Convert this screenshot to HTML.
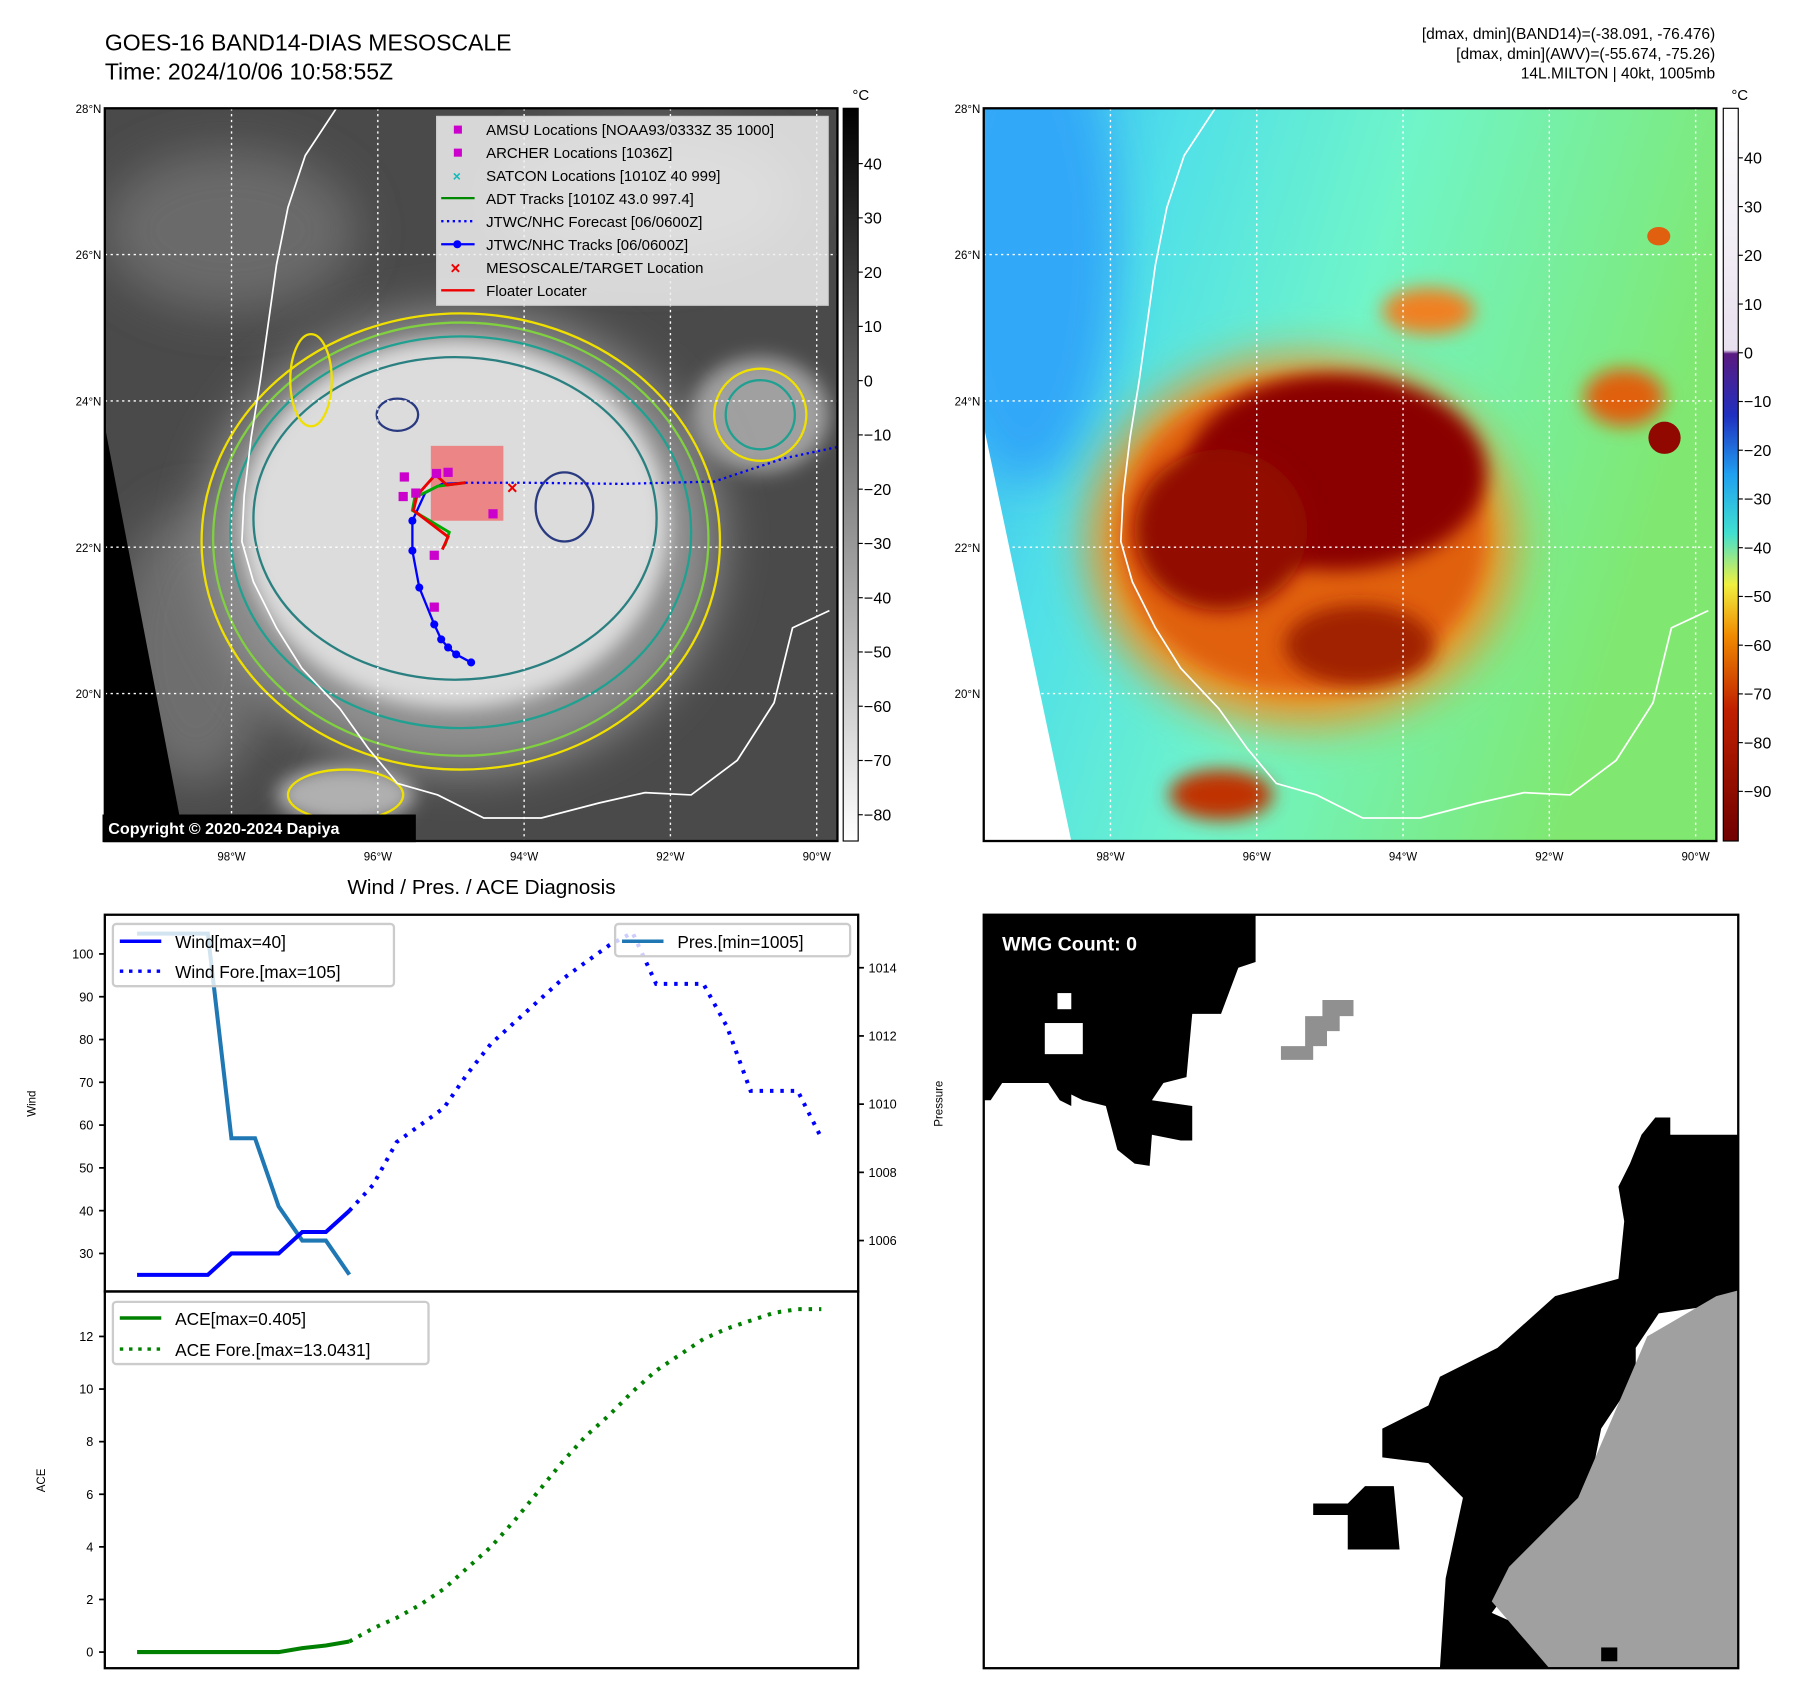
<!DOCTYPE html>
<html><head><meta charset="utf-8"><style>
html,body{margin:0;padding:0;background:#fff;}
svg{display:block;font-family:"Liberation Sans","DejaVu Sans",sans-serif;}
</style></head><body>
<svg id="root" width="1797" height="1697" viewBox="0 0 1560 1473" preserveAspectRatio="none" xmlns="http://www.w3.org/2000/svg">
<defs>
<filter id="blur8" x="-50%" y="-50%" width="200%" height="200%"><feGaussianBlur stdDeviation="8"/></filter>
<filter id="blur20" x="-50%" y="-50%" width="200%" height="200%"><feGaussianBlur stdDeviation="20"/></filter>
<clipPath id="c1"><rect x="91" y="94" width="636" height="636"/></clipPath>
<clipPath id="c2"><rect x="854" y="94" width="636" height="636"/></clipPath>
<clipPath id="c3"><rect x="854" y="794" width="655" height="654"/></clipPath>
<linearGradient id="gray" x1="0" y1="0" x2="0" y2="1"><stop offset="0" stop-color="#000"/><stop offset="1" stop-color="#fff"/></linearGradient>
<linearGradient id="jet" x1="0" y1="0" x2="0" y2="1">
<stop offset="0" stop-color="#ffffff"/><stop offset="0.33" stop-color="#e8e0ee"/><stop offset="0.335" stop-color="#5a1a80"/>
<stop offset="0.42" stop-color="#2030c0"/><stop offset="0.5" stop-color="#20a0f0"/><stop offset="0.58" stop-color="#40e0d0"/>
<stop offset="0.65" stop-color="#f0f040"/><stop offset="0.72" stop-color="#f08a00"/><stop offset="0.82" stop-color="#c02000"/><stop offset="1" stop-color="#700000"/></linearGradient>
<linearGradient id="bg2" x1="0" y1="0" x2="1" y2="0.3"><stop offset="0" stop-color="#38b0f6"/><stop offset="0.25" stop-color="#50e0e8"/><stop offset="0.55" stop-color="#70f5c8"/><stop offset="1" stop-color="#80e870"/></linearGradient>
</defs>

<text x="91" y="44" font-size="20">GOES-16 BAND14-DIAS MESOSCALE</text>
<text x="91" y="69" font-size="20">Time: 2024/10/06 10:58:55Z</text>
<g font-size="13.5" text-anchor="end">
<text x="1489" y="34">[dmax, dmin](BAND14)=(-38.091, -76.476)</text>
<text x="1489" y="51">[dmax, dmin](AWV)=(-55.674, -75.26)</text>
<text x="1489" y="68">14L.MILTON | 40kt, 1005mb</text>
</g>

<!-- MAP 1 -->
<g clip-path="url(#c1)">
<rect x="91" y="94" width="636" height="636" fill="#4a4a4a"/>
<ellipse cx="200" cy="200" rx="110" ry="70" fill="#6a6a6a" filter="url(#blur20)"/>
<ellipse cx="560" cy="170" rx="130" ry="60" fill="#757575" filter="url(#blur20)"/>
<ellipse cx="170" cy="560" rx="70" ry="120" fill="#6e6e6e" filter="url(#blur20)"/>
<ellipse cx="660" cy="360" rx="60" ry="50" fill="#a0a0a0" filter="url(#blur8)"/>
<ellipse cx="400" cy="470" rx="225" ry="200" fill="#909090" filter="url(#blur20)"/>
<ellipse cx="395" cy="455" rx="185" ry="160" fill="#dcdcdc" filter="url(#blur8)"/>
<ellipse cx="300" cy="690" rx="60" ry="25" fill="#b0b0b0" filter="url(#blur8)"/>
<polygon points="91,370 160,730 91,730" fill="#000"/>
<g fill="none" stroke-width="2">
<ellipse cx="400" cy="470" rx="225" ry="198" stroke="#f0e000"/>
<ellipse cx="400" cy="468" rx="215" ry="188" stroke="#80d040"/>
<ellipse cx="400" cy="462" rx="200" ry="170" stroke="#20a090"/>
<ellipse cx="395" cy="450" rx="175" ry="140" stroke="#2a8080"/>
<ellipse cx="660" cy="360" rx="40" ry="40" stroke="#f0e000"/>
<ellipse cx="660" cy="360" rx="30" ry="30" stroke="#20a090"/>
<ellipse cx="300" cy="690" rx="50" ry="22" stroke="#f0e000"/>
<ellipse cx="270" cy="330" rx="18" ry="40" stroke="#f0e000"/>
<ellipse cx="490" cy="440" rx="25" ry="30" stroke="#2a3a80"/>
<ellipse cx="345" cy="360" rx="18" ry="14" stroke="#2a3a80"/>
</g>
<polyline fill="none" stroke="#fff" stroke-width="1.5" points="292,94 265,135 250,180 240,230 233,280 226,330 218,380 212,430 210,470 220,505 240,545 262,580 295,615 320,650 345,680 380,690 420,710 470,710 520,697 560,688 600,690 640,660 672,610 688,545 720,530"/>
<g stroke="#fff" stroke-width="1.2" stroke-dasharray="2,3">
<line x1="91" y1="221" x2="727" y2="221"/><line x1="91" y1="348" x2="727" y2="348"/><line x1="91" y1="475" x2="727" y2="475"/><line x1="91" y1="602" x2="727" y2="602"/>
<line x1="201" y1="94" x2="201" y2="730"/><line x1="328" y1="94" x2="328" y2="730"/><line x1="455" y1="94" x2="455" y2="730"/><line x1="582" y1="94" x2="582" y2="730"/><line x1="709" y1="94" x2="709" y2="730"/>
</g>
<rect x="374" y="387" width="63" height="65" fill="#f07070" opacity="0.8"/>
<polyline fill="none" stroke="#00f" stroke-width="2" stroke-dasharray="2,3" points="404,419 455,419 540,420 620,418 680,398 727,388"/>
<polyline fill="none" stroke="#00f" stroke-width="2" points="404,419 384,420 369,428 358,452 358,478 364,510 377,542 383,555 389,562 396,568 409,575"/>
<g fill="#00f"><circle cx="358" cy="452" r="3.5"/><circle cx="358" cy="478" r="3.5"/><circle cx="364" cy="510" r="3.5"/><circle cx="377" cy="542" r="3.5"/><circle cx="383" cy="555" r="3.5"/><circle cx="389" cy="562" r="3.5"/><circle cx="396" cy="568" r="3.5"/><circle cx="409" cy="575" r="3.5"/></g>
<polyline fill="none" stroke="#0a0" stroke-width="2.5" points="404,419 380,422 360,432 358,443 390,462 386,474"/>
<polyline fill="none" stroke="#e00" stroke-width="2.5" points="404,419 388,421 378,412 362,430 359,443 389,466 384,477"/>
<g fill="#c0c">
<rect x="347" y="410" width="8" height="8"/><rect x="346" y="427" width="8" height="8"/><rect x="375" y="407" width="8" height="8"/><rect x="385" y="406" width="8" height="8"/><rect x="357" y="424" width="8" height="8"/><rect x="424" y="442" width="8" height="8"/><rect x="373" y="478" width="8" height="8"/><rect x="373" y="523" width="8" height="8"/></g>
<text x="440" y="429" fill="#e00" font-size="16" font-weight="bold">×</text>
<g font-size="13">
<rect x="379" y="101" width="340" height="164" fill="#f0f0f0" fill-opacity="0.85" stroke="#ccc"/>
<rect x="394" y="109" width="7" height="7" fill="#c0c"/><text x="422" y="117">AMSU Locations [NOAA93/0333Z 35 1000]</text>
<rect x="394" y="129" width="7" height="7" fill="#c0c"/><text x="422" y="137">ARCHER Locations [1036Z]</text>
<text x="393" y="157" fill="#1bb" font-size="12" font-weight="bold">×</text><text x="422" y="157">SATCON Locations [1010Z 40 999]</text>
<line x1="383" y1="172" x2="412" y2="172" stroke="#080" stroke-width="2"/><text x="422" y="177">ADT Tracks [1010Z 43.0 997.4]</text>
<line x1="383" y1="192" x2="412" y2="192" stroke="#00f" stroke-width="2" stroke-dasharray="2,3"/><text x="422" y="197">JTWC/NHC Forecast [06/0600Z]</text>
<line x1="383" y1="212" x2="412" y2="212" stroke="#00f" stroke-width="2"/><circle cx="397" cy="212" r="3.5" fill="#00f"/><text x="422" y="217">JTWC/NHC Tracks [06/0600Z]</text>
<text x="391" y="238" fill="#e00" font-size="15" font-weight="bold">×</text><text x="422" y="237">MESOSCALE/TARGET Location</text>
<line x1="383" y1="252" x2="412" y2="252" stroke="#e00" stroke-width="2"/><text x="422" y="257">Floater Locater</text>
</g>
</g>
<rect x="91" y="94" width="636" height="636" fill="none" stroke="#000" stroke-width="2"/>
<rect x="89" y="707" width="272" height="24" fill="#000"/>
<text x="94" y="724" fill="#fff" font-size="14" font-weight="bold">Copyright © 2020-2024 Dapiya</text>

<!-- MAP 2 -->
<g clip-path="url(#c2)">
<rect x="854" y="94" width="636" height="636" fill="url(#bg2)"/>
<ellipse cx="890" cy="220" rx="80" ry="200" fill="#30a8f8" filter="url(#blur20)"/>
<ellipse cx="1130" cy="470" rx="185" ry="160" fill="#f09020" filter="url(#blur20)"/>
<ellipse cx="1130" cy="465" rx="160" ry="135" fill="#e06010" filter="url(#blur8)"/>
<ellipse cx="1160" cy="410" rx="130" ry="85" fill="#8a0500" filter="url(#blur8)"/>
<ellipse cx="1060" cy="460" rx="75" ry="70" fill="#920800" filter="url(#blur8)"/>
<ellipse cx="1180" cy="560" rx="65" ry="35" fill="#a02000" filter="url(#blur8)"/>
<ellipse cx="1240" cy="270" rx="40" ry="20" fill="#f08020" filter="url(#blur8)"/>
<ellipse cx="1410" cy="345" rx="35" ry="25" fill="#e06010" filter="url(#blur8)"/>
<ellipse cx="1445" cy="380" rx="14" ry="14" fill="#900800"/>
<ellipse cx="1060" cy="690" rx="45" ry="22" fill="#c03000" filter="url(#blur8)"/>
<ellipse cx="1440" cy="205" rx="10" ry="8" fill="#e06010"/>
<polygon points="854,370 930,730 854,730" fill="#fff"/>
<polyline fill="none" stroke="#fff" stroke-width="1.5" points="1055,94 1028,135 1013,180 1003,230 996,280 989,330 981,380 975,430 973,470 983,505 1003,545 1025,580 1058,615 1083,650 1108,680 1143,690 1183,710 1233,710 1283,697 1323,688 1363,690 1403,660 1435,610 1451,545 1483,530"/>
<g stroke="#fff" stroke-width="1.2" stroke-dasharray="2,3">
<line x1="854" y1="221" x2="1490" y2="221"/><line x1="854" y1="348" x2="1490" y2="348"/><line x1="854" y1="475" x2="1490" y2="475"/><line x1="854" y1="602" x2="1490" y2="602"/>
<line x1="964" y1="94" x2="964" y2="730"/><line x1="1091" y1="94" x2="1091" y2="730"/><line x1="1218" y1="94" x2="1218" y2="730"/><line x1="1345" y1="94" x2="1345" y2="730"/><line x1="1472" y1="94" x2="1472" y2="730"/>
</g>
</g>
<rect x="854" y="94" width="636" height="636" fill="none" stroke="#000" stroke-width="2"/>

<!-- colorbars -->
<rect x="732" y="94" width="13" height="636" fill="url(#gray)" stroke="#000"/>
<rect x="1496" y="94" width="13" height="636" fill="url(#jet)" stroke="#000"/>
<text x="740" y="87" font-size="13">°C</text><text x="1503" y="87" font-size="13">°C</text>
<g id="cbticks" font-size="14"></g>
<g id="mapticks" font-size="10"></g>

<!-- WMG -->
<g clip-path="url(#c3)">
<rect x="854" y="794" width="655" height="654" fill="#fff"/>
<polygon fill="#000" points="854,794 1090,794 1090,835 1075,840 1060,880 1035,880 1030,935 1010,940 1000,955 1035,960 1035,990 1025,990 1000,985 998,1012 985,1010 970,998 960,960 940,955 930,950 930,960 920,955 910,940 870,940 860,955 854,955"/>
<rect x="907" y="888" width="33" height="27" fill="#fff"/><rect x="918" y="862" width="12" height="14" fill="#fff"/>
<polygon fill="#909090" points="1148,868 1175,868 1175,882 1163,882 1163,895 1152,895 1152,908 1140,908 1140,920 1112,920 1112,908 1133,908 1133,882 1148,882"/>
<polygon fill="#000" points="1425,985 1437,970 1450,970 1450,985 1509,985 1509,1130 1440,1140 1420,1170 1420,1195 1390,1240 1380,1290 1340,1350 1310,1380 1295,1400 1340,1420 1350,1448 1250,1448 1255,1370 1270,1300 1240,1270 1200,1265 1200,1240 1240,1220 1250,1195 1300,1170 1350,1125 1405,1110 1410,1060 1405,1030 1415,1010"/>
<polygon fill="#a0a0a0" points="1509,1120 1490,1125 1430,1160 1415,1195 1370,1300 1310,1360 1295,1390 1345,1448 1509,1448"/>
<rect x="1390" y="1430" width="14" height="12" fill="#000"/>
<polygon fill="#000" points="1140,1305 1170,1305 1185,1290 1210,1290 1215,1345 1170,1345 1170,1315 1140,1315"/>
</g>
<rect x="854" y="794" width="655" height="654" fill="none" stroke="#000" stroke-width="2"/>
<text x="870" y="825" fill="#fff" font-size="17" font-weight="bold">WMG Count: 0</text>

<!-- Diagnosis chart -->
<text x="418" y="776" font-size="18" text-anchor="middle">Wind / Pres. / ACE Diagnosis</text>
<g id="chart"></g>
<rect x="91" y="794" width="654" height="327" fill="none" stroke="#000" stroke-width="2"/>
<rect x="91" y="1121" width="654" height="327" fill="none" stroke="#000" stroke-width="2"/>
<text transform="translate(31,958) rotate(-90)" font-size="10" text-anchor="middle">Wind</text>
<text transform="translate(818,958) rotate(-90)" font-size="10" text-anchor="middle">Pressure</text>
<text transform="translate(39,1285) rotate(-90)" font-size="10" text-anchor="middle">ACE</text>
<g font-size="15">
<g>
<rect x="98" y="802" width="244" height="54" fill="#fff" fill-opacity="0.8" stroke="#ccc" stroke-width="2" rx="3"/>
<line x1="104" y1="817" x2="140" y2="817" stroke="#00f" stroke-width="3"/><text x="152" y="823">Wind[max=40]</text>
<line x1="104" y1="843" x2="140" y2="843" stroke="#00f" stroke-width="3" stroke-dasharray="3,5"/><text x="152" y="849">Wind Fore.[max=105]</text></g>
<g>
<rect x="534" y="802" width="204" height="28" fill="#fff" fill-opacity="0.8" stroke="#ccc" stroke-width="2" rx="3"/>
<line x1="540" y1="817" x2="576" y2="817" stroke="#1f77b4" stroke-width="3"/><text x="588" y="823">Pres.[min=1005]</text></g>
<g>
<rect x="98" y="1130" width="274" height="54" fill="#fff" fill-opacity="0.8" stroke="#ccc" stroke-width="2" rx="3"/>
<line x1="104" y1="1144" x2="140" y2="1144" stroke="green" stroke-width="3"/><text x="152" y="1150">ACE[max=0.405]</text>
<line x1="104" y1="1171" x2="140" y2="1171" stroke="green" stroke-width="3" stroke-dasharray="3,5"/><text x="152" y="1177">ACE Fore.[max=13.0431]</text></g>
</g>
</svg>
<script>
const windObs = [25,25,25,25,30,30,30,35,35,40];
const windFore = [40,46,56,60,64,72,79,84,89,94,98,102,105,93,93,93,83,68,68,68,57];
const presObs = [1015,1015,1015,1015,1009,1009,1007,1006,1006,1005];
const aceObs = [0,0,0,0,0,0,0,0.15,0.25,0.405];
const aceFore = [0.405,0.9,1.3,1.8,2.4,3.2,4.0,5.0,6.1,7.2,8.2,9.0,9.9,10.7,11.3,11.9,12.3,12.6,12.9,13.04,13.04];
const windTicks = [30,40,50,60,70,80,90,100];
const presTicks = [1006,1008,1010,1012,1014];
const aceTicks = [0,2,4,6,8,10,12];
const irTicks = [40,30,20,10,0,-10,-20,-30,-40,-50,-60,-70,-80];
const awvTicks = [40,30,20,10,0,-10,-20,-30,-40,-50,-60,-70,-80,-90];
const latTicks = [28,26,24,22,20];
const lonTicks = [98,96,94,92,90];

const NS='http://www.w3.org/2000/svg';
function el(tag,attrs,parent,txt){const e=document.createElementNS(NS,tag);for(const k in attrs)e.setAttribute(k,attrs[k]);if(txt!==undefined)e.textContent=txt;parent.appendChild(e);return e;}
const xS=i=>119+i*(713-119)/29;
const yW=v=>1088-(v-30)*3.714;
const yP=v=>840+(1014-v)*29.6;
const yA=v=>1434-v*22.83;
const chart=document.getElementById('chart');
function line(vals,off,ys,color,dash,name){
  const pts=vals.map((v,i)=>xS(i+off).toFixed(1)+','+ys(v).toFixed(1)).join(' ');
  const p=el('polyline',{points:pts,fill:'none',stroke:color,'stroke-width':3.5,'stroke-dasharray':dash||'none'},chart);
  
  
}
line(presObs,0,yP,'#1f77b4','', 'pressure-line');
line(windObs,0,yW,'#00f','', 'wind-line');
line(windFore,9,yW,'#00f','3,6', 'wind-forecast-line');
line(aceObs,0,yA,'green','', 'ace-line');
line(aceFore,9,yA,'green','3,6', 'ace-forecast-line');
function ticks(arr,ys,x,side){
  arr.forEach(v=>{
    const y=ys(v);
    const t=el('line',{x1:side<0?x-5:x,x2:side<0?x:x+5,y1:y,y2:y,stroke:'#000','stroke-width':1.5},chart);
    
    
    const lb=el('text',{x:side<0?x-10:x+9,y:y+4,'font-size':11,'text-anchor':side<0?'end':'start'},chart,String(v));
    
    
  });
}
ticks(windTicks,yW,91,-1);ticks(presTicks,yP,745,1);ticks(aceTicks,yA,91,-1);
const cb=document.getElementById('cbticks');
irTicks.forEach(v=>{const y=142+(40-v)*4.71;el('line',{x1:745,x2:749,y1:y,y2:y,stroke:'#000'},cb);
 const t=el('text',{x:750,y:y+5},cb,String(v).replace('-','\u2212'));
 
 });
awvTicks.forEach(v=>{const y=137+(40-v)*4.23;el('line',{x1:1509,x2:1513,y1:y,y2:y,stroke:'#000'},cb);
 const t=el('text',{x:1514,y:y+5},cb,String(v).replace('-','\u2212'));
 
 });
const mt=document.getElementById('mapticks');
[91,854].forEach(x0=>{
 latTicks.forEach(v=>{const y=94+(28-v)*63.5;const t=el('text',{x:x0-3,y:y+4,'text-anchor':'end'},mt,v+'°N');
  
  });
 lonTicks.forEach(v=>{const x=x0+110+(98-v)*63.5;const t=el('text',{x:x,y:747,'text-anchor':'middle'},mt,v+'°W');
  
  });
});
</script>
</body></html>
